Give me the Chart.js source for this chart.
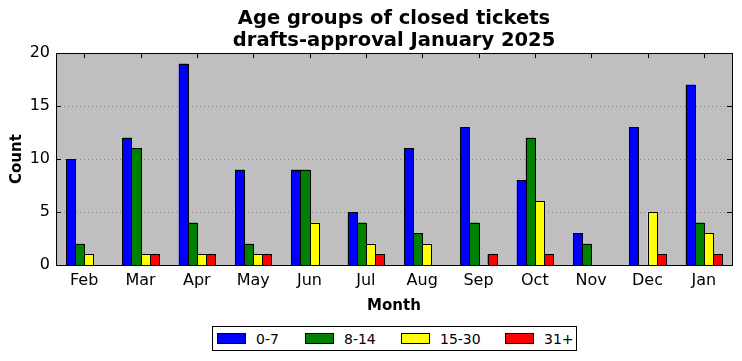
<!DOCTYPE html>
<html><head><meta charset="utf-8">
<script src="https://cdn.jsdelivr.net/npm/chart.js@4/dist/chart.umd.min.js"></script>
<style>
html,body{margin:0;padding:0;background:#fff;}
#wrap{position:relative;width:742px;height:361px;}
#legend{position:absolute;left:212px;top:326px;width:363px;height:23px;border:1px solid #000;background:#fff;font-family:"DejaVu Sans";font-size:14px;color:#000;box-sizing:content-box;}
.item{display:flex;align-items:center;position:absolute;top:3px;height:17px;}
.sw{width:27px;height:9px;border:1px solid #000;margin-right:10px;}
</style></head>
<body><div id="wrap"><canvas id="c" width="742" height="361"></canvas><div id="legend"></div></div>
<script>
const months = ["Feb","Mar","Apr","May","Jun","Jul","Aug","Sep","Oct","Nov","Dec","Jan"];
const seriesNames = ["0-7","8-14","15-30","31+"];
const seriesColors = ["#0000ff","#008000","#ffff00","#ff0000"];
const age0to7   = [10,12,19,9,9,5,11,13,8,3,13,17];
const age8to14  = [2,11,4,2,9,4,3,4,12,2,0,4];
const age15to30 = [1,1,1,1,4,2,2,0,6,0,5,3];
const age31plus = [0,1,1,1,0,1,0,1,1,0,1,1];
const yTicks = [0,5,10,15,20];
const seriesValues = [age0to7, age8to14, age15to30, age31plus];

const FONT = "DejaVu Sans";

const framePlugin = {
  id:'frame',
  beforeDraw(chart){
    const a = chart.chartArea, ctx = chart.ctx;
    ctx.save(); ctx.fillStyle='#bfbfbf';
    ctx.fillRect(a.left,a.top,a.right-a.left,a.bottom-a.top);
    ctx.restore();
  },
  afterDatasetsDraw(chart){
    const ctx = chart.ctx;
    ctx.save();
    ctx.strokeStyle='#000'; ctx.lineWidth=1;
    chart.data.datasets.forEach((ds,di)=>{
      const meta = chart.getDatasetMeta(di);
      meta.data.forEach(el=>{
        const p = el.getProps(['x','y','base','width'],true);
        const l = Math.round(p.x - p.width/2)+0.5;
        const r = Math.round(p.x + p.width/2)+0.5;
        const t = Math.round(Math.min(p.y,p.base))+0.5;
        const b = Math.round(Math.max(p.y,p.base))+0.5;
        ctx.fillStyle = ds.backgroundColor;
        ctx.fillRect(l,t,r-l,b-t);
        ctx.strokeRect(l,t,r-l,b-t);
      });
    });
    ctx.restore();
  },
  afterDraw(chart){
    const a = chart.chartArea, ctx = chart.ctx;
    const xs = chart.scales.x, ys = chart.scales.y;
    ctx.save();
    ctx.strokeStyle='#000'; ctx.lineWidth=1;
    ctx.beginPath();
    for(let i=0;i<months.length;i++){
      const x = Math.round(xs.getPixelForTick(i))+0.5;
      ctx.moveTo(x,a.bottom); ctx.lineTo(x,a.bottom-5);
      ctx.moveTo(x,a.top); ctx.lineTo(x,a.top+5);
    }
    yTicks.forEach(v=>{
      const y = Math.round(ys.getPixelForValue(v))+0.5;
      ctx.moveTo(a.left,y); ctx.lineTo(a.left+5,y);
      ctx.moveTo(a.right,y); ctx.lineTo(a.right-5,y);
    });
    ctx.stroke();
    ctx.strokeRect(Math.round(a.left)+0.5,Math.round(a.top)+0.5,Math.round(a.right-a.left),Math.round(a.bottom-a.top));
    ctx.restore();
  }
};

new Chart(document.getElementById('c'),{
  type:'bar',
  data:{
    labels:months,
    datasets:seriesNames.map((n,i)=>({
      label:n, data:seriesValues[i], backgroundColor:seriesColors[i],
      borderWidth:0,
      categoryPercentage:0.64, barPercentage:1.0
    }))
  },
  options:{
    responsive:false, animation:false, devicePixelRatio:1,
    layout:{padding:{left:0,right:10,top:0,bottom:46}},
    plugins:{
      legend:{display:false},
      tooltip:{enabled:false},
      title:{display:true,fullSize:false,text:['Age groups of closed tickets','drafts-approval January 2025'],
        color:'#000',font:{family:FONT,size:19.5,weight:'bold',lineHeight:1.13},padding:{top:8,bottom:1}}
    },
    scales:{
      x:{
        grid:{display:false,drawTicks:false},
        border:{display:false},
        ticks:{color:'#000',font:{family:FONT,size:16},padding:6,maxRotation:0},
        title:{display:true,text:'Month',color:'#000',font:{family:FONT,size:15,weight:'bold'},padding:{top:4,bottom:0}},
        afterFit(s){s.height=50;}
      },
      y:{
        min:0,max:20,
        afterBuildTicks(s){s.ticks = yTicks.map(v=>({value:v}));},
        grid:{drawTicks:false,color:(c)=> (c.tick && (c.tick.value===0||c.tick.value===20))?'rgba(0,0,0,0)':'#888888',lineWidth:1},
        border:{display:false,dash:[1,3]},
        ticks:{color:'#000',font:{family:FONT,size:16},padding:6},
        title:{display:true,text:'Count',color:'#000',font:{family:FONT,size:15,weight:'bold'},padding:{top:8,bottom:4}},
        afterFit(s){s.width=56;}
      }
    }
  },
  plugins:[framePlugin]
});

const lg = document.getElementById('legend');
const offs = [4,92,188,292];
seriesNames.forEach((n,i)=>{
  const it = document.createElement('div'); it.className='item'; it.style.left=offs[i]+'px';
  const sw = document.createElement('div'); sw.className='sw'; sw.style.background=seriesColors[i];
  const tx = document.createElement('span'); tx.textContent=n;
  it.appendChild(sw); it.appendChild(tx); lg.appendChild(it);
});
</script></body></html>
